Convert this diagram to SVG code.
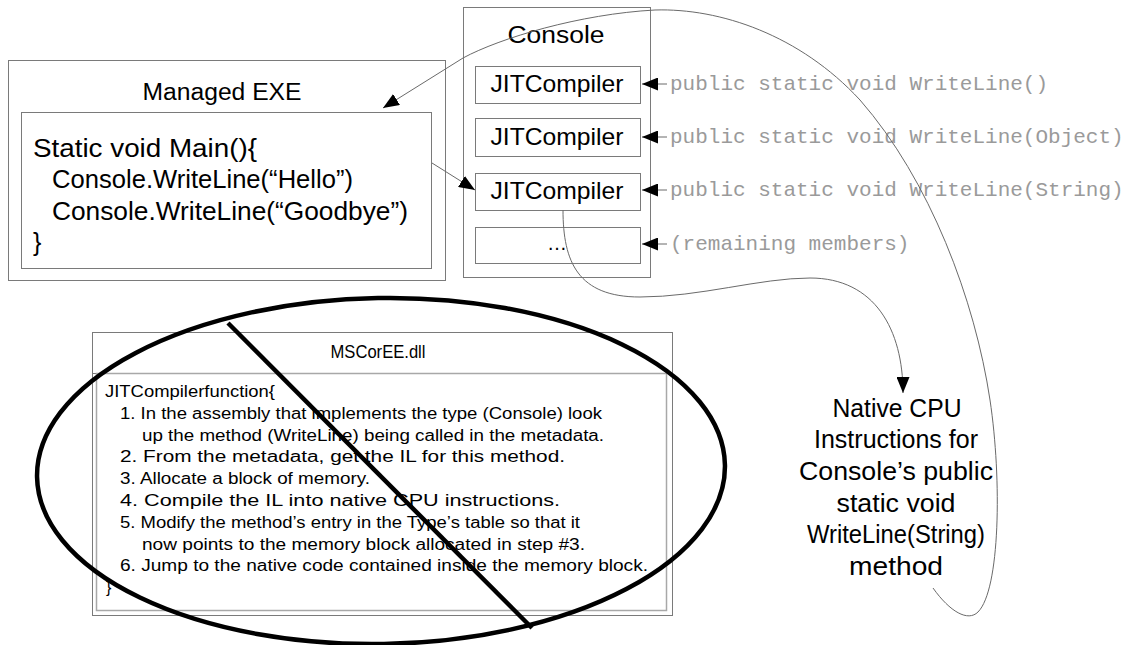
<svg xmlns="http://www.w3.org/2000/svg" width="1135" height="645" viewBox="0 0 1135 645">
<style>
.box{fill:none;stroke:#7a7a7a;stroke-width:1}
.inner{fill:none;stroke:#a8a8a8;stroke-width:1.5}
.t{font-family:"Liberation Sans",Arial,sans-serif;fill:#000}
.mono{font-family:"Liberation Mono","Courier New",monospace;font-size:21px;fill:#9a9a9a}
.conn{fill:none;stroke:#6a6a6a;stroke-width:1}
.bold{fill:none;stroke:#000;stroke-width:4.5}
</style>
<defs>
<marker id="ah" markerUnits="userSpaceOnUse" markerWidth="16" markerHeight="13" refX="16" refY="6.5" orient="auto">
<path d="M0,0 L16,6.5 L0,13 z" fill="#000"/>
</marker>
</defs>
<rect width="1135" height="645" fill="#fff"/>

<g id="managed-exe">
<rect class="box" x="8.5" y="60.5" width="437" height="220"/>
<text class="t" x="222" y="100" font-size="23" text-anchor="middle" textLength="159" lengthAdjust="spacingAndGlyphs">Managed EXE</text>
<rect class="box" x="21.5" y="112.5" width="410" height="156"/>
<text class="t" x="33" y="157" font-size="25" textLength="224" lengthAdjust="spacingAndGlyphs">Static void Main(){</text>
<text class="t" x="52" y="188" font-size="25" textLength="301" lengthAdjust="spacingAndGlyphs">Console.WriteLine(“Hello”)</text>
<text class="t" x="52" y="220" font-size="25" textLength="356" lengthAdjust="spacingAndGlyphs">Console.WriteLine(“Goodbye”)</text>
<text class="t" x="33" y="251" font-size="25">}</text>
</g>

<g id="console">
<rect class="box" x="463.5" y="7.5" width="187" height="270"/>
<text class="t" x="556" y="43" font-size="23" text-anchor="middle" textLength="97" lengthAdjust="spacingAndGlyphs">Console</text>
<rect class="box" x="475.5" y="66.5" width="165" height="37"/>
<text class="t" x="557" y="92" font-size="24" text-anchor="middle" textLength="133" lengthAdjust="spacingAndGlyphs">JITCompiler</text>
<rect class="box" x="475.5" y="118.5" width="165" height="38"/>
<text class="t" x="557" y="145" font-size="24" text-anchor="middle" textLength="133" lengthAdjust="spacingAndGlyphs">JITCompiler</text>
<rect class="box" x="475.5" y="173.5" width="165" height="37"/>
<text class="t" x="557" y="199" font-size="24" text-anchor="middle" textLength="133" lengthAdjust="spacingAndGlyphs">JITCompiler</text>
<rect class="box" x="475.5" y="227.5" width="165" height="36"/>
<text class="t" x="557" y="250" font-size="20" text-anchor="middle">…</text>
</g>

<g id="members">
<text class="mono" x="670" y="90">public static void WriteLine()</text>
<text class="mono" x="670" y="143">public static void WriteLine(Object)</text>
<text class="mono" x="670" y="196">public static void WriteLine(String)</text>
<text class="mono" x="670" y="250">(remaining members)</text>
</g>

<g id="mscoree">
<rect class="box" x="92.5" y="332.5" width="580" height="283"/>
<line class="box" x1="92.5" y1="373.5" x2="672.5" y2="373.5"/>
<rect class="inner" x="96.5" y="373.5" width="570" height="237"/>
<text class="t" x="378" y="358" font-size="18" text-anchor="middle" textLength="95" lengthAdjust="spacingAndGlyphs">MSCorEE.dll</text>
<text class="t" x="105" y="397" font-size="16" textLength="170" lengthAdjust="spacingAndGlyphs">JITCompilerfunction{</text>
<text class="t" x="120" y="419" font-size="16" textLength="482" lengthAdjust="spacingAndGlyphs">1. In the assembly that implements the type (Console) look</text>
<text class="t" x="142" y="441" font-size="16" textLength="462" lengthAdjust="spacingAndGlyphs">up the method (WriteLine) being called in the metadata.</text>
<text class="t" x="120" y="462" font-size="16" textLength="445" lengthAdjust="spacingAndGlyphs">2. From the metadata, get the IL for this method.</text>
<text class="t" x="120" y="484" font-size="16" textLength="250" lengthAdjust="spacingAndGlyphs">3. Allocate a block of memory.</text>
<text class="t" x="120" y="506" font-size="16" textLength="440" lengthAdjust="spacingAndGlyphs">4. Compile the IL into native CPU instructions.</text>
<text class="t" x="120" y="528" font-size="16" textLength="460" lengthAdjust="spacingAndGlyphs">5. Modify the method’s entry in the Type’s table so that it</text>
<text class="t" x="142" y="550" font-size="16" textLength="443" lengthAdjust="spacingAndGlyphs">now points to the memory block allocated in step #3.</text>
<text class="t" x="120" y="571" font-size="16" textLength="528" lengthAdjust="spacingAndGlyphs">6. Jump to the native code contained inside the memory block.</text>
<text class="t" x="106" y="593" font-size="16">}</text>
</g>

<g id="native">
<text class="t" x="897" y="417" font-size="25" text-anchor="middle" textLength="129" lengthAdjust="spacingAndGlyphs">Native CPU</text>
<text class="t" x="896" y="448" font-size="25" text-anchor="middle" textLength="164" lengthAdjust="spacingAndGlyphs">Instructions for</text>
<text class="t" x="896" y="480" font-size="25" text-anchor="middle" textLength="194" lengthAdjust="spacingAndGlyphs">Console’s public</text>
<text class="t" x="896" y="512" font-size="25" text-anchor="middle" textLength="119" lengthAdjust="spacingAndGlyphs">static void</text>
<text class="t" x="896" y="543" font-size="25" text-anchor="middle" textLength="178" lengthAdjust="spacingAndGlyphs">WriteLine(String)</text>
<text class="t" x="896" y="575" font-size="25" text-anchor="middle" textLength="94" lengthAdjust="spacingAndGlyphs">method</text>
</g>

<g id="connectors">
<path class="conn" d="M432,163 L475,190" marker-end="url(#ah)"/>
<path class="conn" d="M667,84 L642,84" marker-end="url(#ah)"/>
<path class="conn" d="M667,137 L642,137" marker-end="url(#ah)"/>
<path class="conn" d="M667,190 L642,190" marker-end="url(#ah)"/>
<path class="conn" d="M667,244 L642,244" marker-end="url(#ah)"/>
<path class="conn" d="M563,210 C563,262 578,297 640,297 C700,297 760,278 810,278 C875,278 903,330 903,393" marker-end="url(#ah)"/>
<path class="conn" d="M933,588 C950,612 968,622 978,612 C1000,590 1002,480 990,400 C975,300 930,180 860,100 C800,35 720,8 655,10 C580,14 500,38 463,58 L383,108" marker-end="url(#ah)"/>
</g>

<g id="strike">
<ellipse class="bold" cx="381" cy="471" rx="344" ry="173" transform="rotate(-1 381 471)"/>
<line class="bold" x1="228" y1="323" x2="532" y2="628"/>
</g>
</svg>
